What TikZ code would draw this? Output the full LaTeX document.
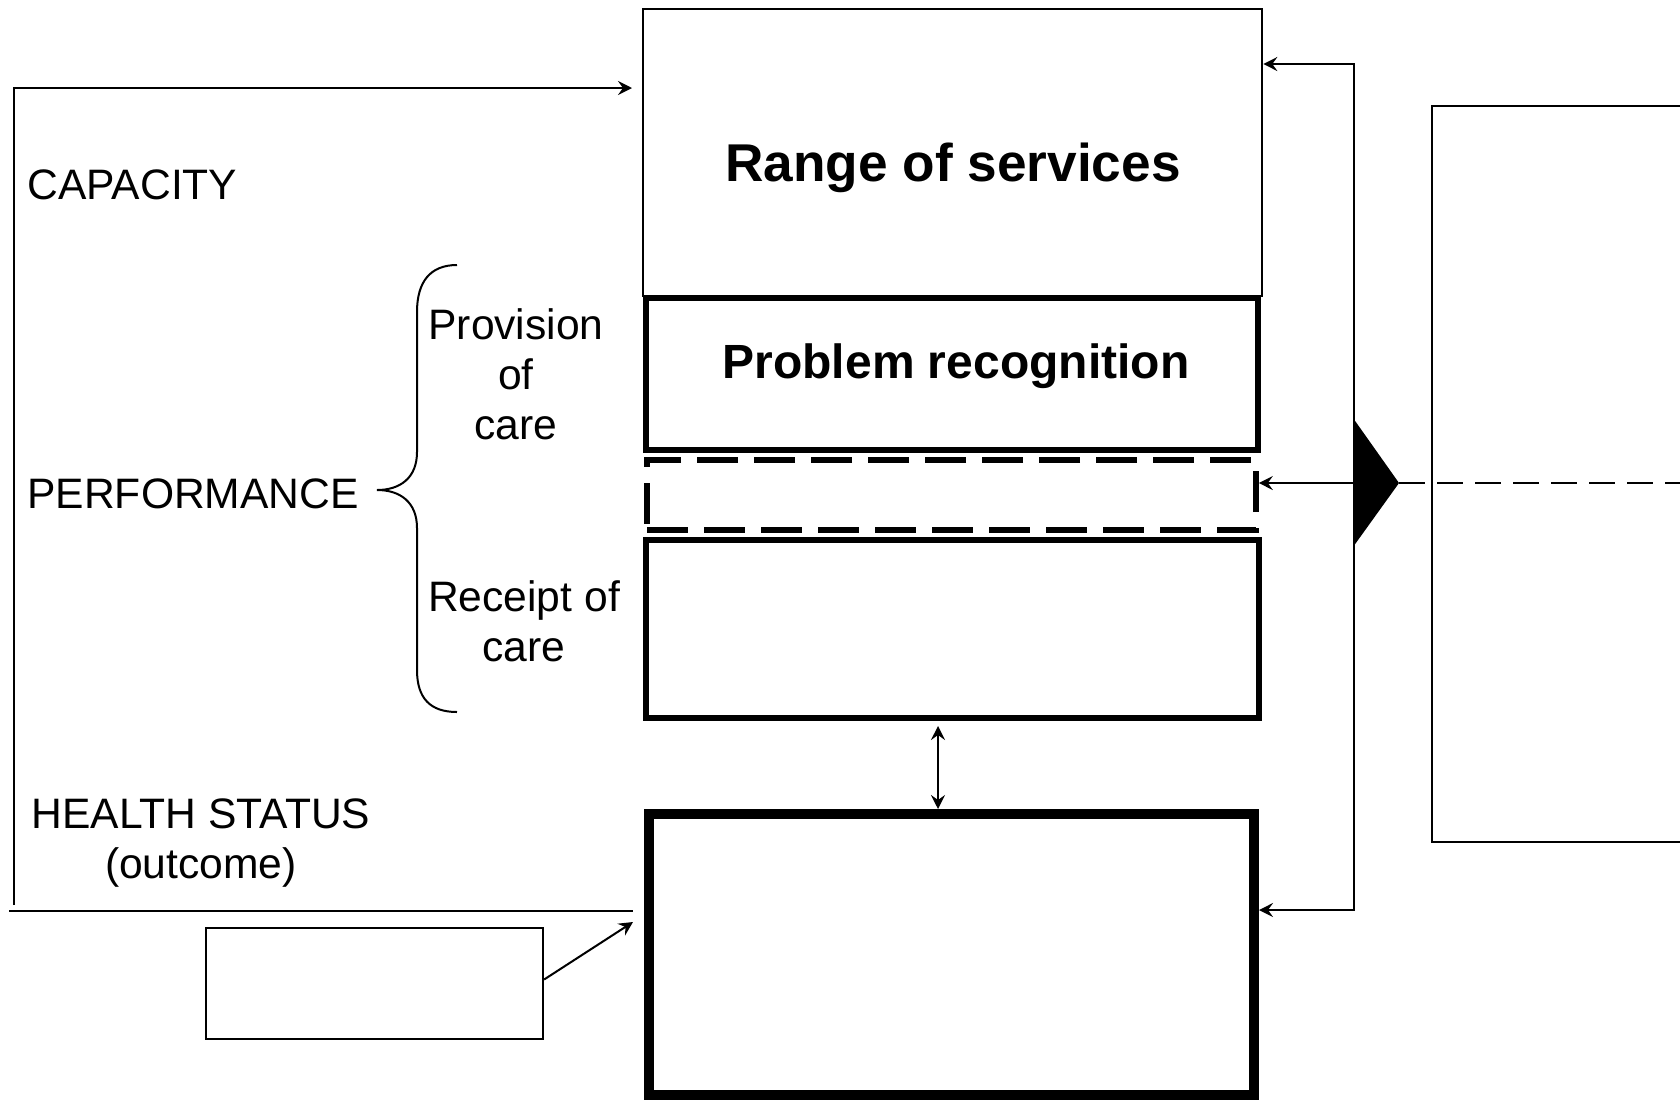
\documentclass[tikz,border=0pt]{standalone}
\usepackage{fontspec}
\setmainfont{Liberation Sans}
\usetikzlibrary{arrows.meta}
\begin{document}
\begin{tikzpicture}[x=0.5pt,y=-0.5pt,
  box/.style={draw, inner sep=0pt},
  thinbox/.style={box, line width=1.3pt},
  thickbox/.style={box, line width=2.8pt},
  heavybox/.style={box, line width=5pt},
  dashbox/.style={box, line width=2.8pt, dash pattern=on 20.5pt off 8pt},
  conn/.style={line width=1pt},
  arr/.style={conn, -{Stealth[length=7pt,width=7pt,inset=2.5pt]}},
  dbl/.style={conn, {Stealth[length=7pt,width=7pt,inset=2.5pt]}-{Stealth[length=7pt,width=7pt,inset=2.5pt]}},
  lab/.style={inner sep=0pt, font=\fontsize{21.3}{25}\selectfont},
  bold/.style={inner sep=0pt, font=\bfseries\fontsize{#1}{#1}\selectfont}
]
\clip (0,0) rectangle (1680,1099);
% boxes
\node[thinbox, minimum width=309.5pt, minimum height=143.5pt] (rng) at (952.5,152.5) {};
\node[thickbox, minimum width=306pt, minimum height=76pt] (prob) at (952,374) {};
\node[dashbox, minimum width=304.5pt, minimum height=35pt] (dsh) at (951.5,495) {};
\node[thickbox, minimum width=306.5pt, minimum height=89pt] (rec) at (952.5,629) {};
\node[heavybox, minimum width=302.5pt, minimum height=140.5pt] (health) at (951.5,954.5) {};
\node[box, line width=1.1pt, minimum width=168.5pt, minimum height=55.5pt] (small) at (374.5,983.5) {};
\node[box, line width=1.2pt, minimum width=134pt, minimum height=368pt] (rbox) at (1566,474) {};
% texts in boxes
\node[bold=26.6, anchor=base] (rngtxt) at (953,181) {Range of services};
\node[bold=24, anchor=base] (probtxt) at (956,378) {Problem recognition};
% left labels
\node[lab, anchor=base west] (cap) at (27,199) {CAPACITY};
\node[lab, anchor=base west] (perf) at (27,508) {PERFORMANCE};
\node[lab, align=center] (hs) at (201,843) {HEALTH STATUS\\(outcome)};
\node[lab, align=center] (prov) at (516,374) {Provision\\of\\care};
\node[lab, align=center] (rcpt) at (524,621) {Receipt of\\care};
% brace
\draw[conn] (457,265) .. controls (430,265) and (417,282) .. (417,312) -- (417,452)
  .. controls (417,478) and (400,490) .. (377,490)
  .. controls (400,490) and (417,502) .. (417,528) -- (417,670)
  .. controls (417,698) and (430,712) .. (457,712);
% left loop
\coordinate (lb) at (14,905);
\coordinate (lt) at (14,88);
\coordinate (la) at (632,88);
\draw[arr] (lb) -- (lt) -- (la);
\coordinate (bl) at (9,911);
\coordinate (br) at (633,911);
\draw[conn] (bl) -- (br);
\coordinate (st) at (633,922);
\draw[arr] ([yshift=2pt]small.east) -- (st);
% double arrow
\coordinate (dt) at (938,726);
\draw[dbl] (dt) -- (health.north -| dt);
% right feedback line
\coordinate (vt) at (1354,64);
\coordinate (vb) at (1354,910);
\coordinate (vm) at (1354,483);
\draw[dbl] (rng.east |- vt) -- (vt) -- (vb) -- (health.east |- vb);
\draw[arr] (vm) -- (dsh.east |- vm);
% triangle
\coordinate (tt) at (1399,483);
\fill (1353,418) -- (tt) -- (1353,547) -- cycle;
\draw[conn, dash pattern=on 13pt off 6pt] (tt) -- (rbox.east |- tt) -- ++(30,0);
\end{tikzpicture}
\end{document}
